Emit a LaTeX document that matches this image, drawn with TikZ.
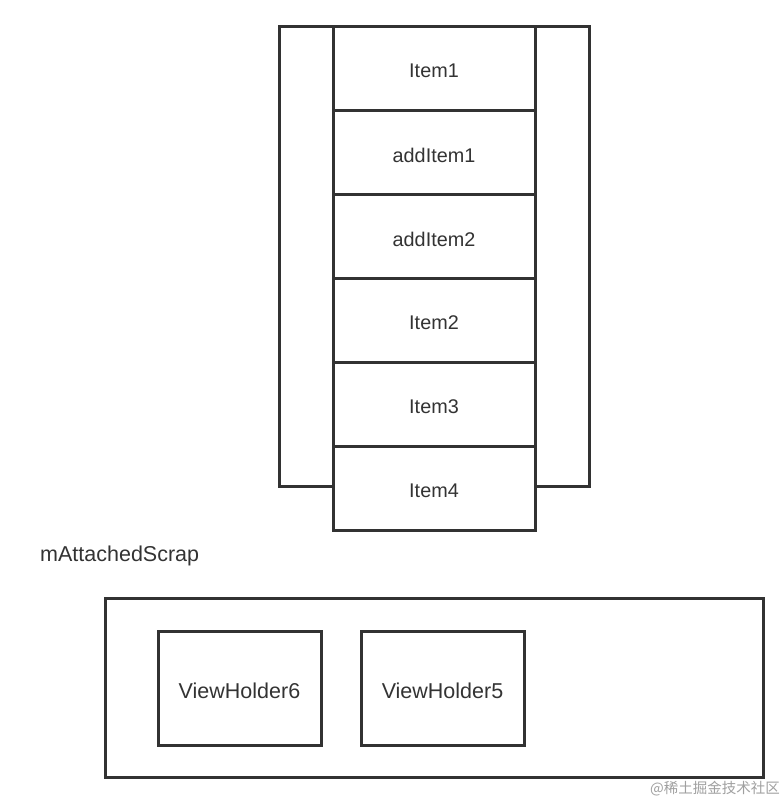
\documentclass[tikz,border=0pt]{standalone}
\usepackage{fontspec}
\setmainfont{Liberation Sans}
\newfontfamily\cjkfont{Noto Sans CJK SC}
\definecolor{ink}{RGB}{50,50,50}
\definecolor{txt}{RGB}{51,51,51}
\definecolor{wm}{RGB}{160,160,160}
\begin{document}
\begin{tikzpicture}[x=1pt,y=-1pt,
  line/.style={draw=ink,line width=3pt},
  itembox/.style={line,fill=white,rectangle,minimum width=202pt,minimum height=84pt,inner sep=0pt},
  itemtext/.style={inner sep=0pt,font=\fontsize{19.8}{22}\selectfont,text=txt},
  vhbox/.style={line,fill=white,rectangle,minimum width=163pt,minimum height=114pt,inner sep=0pt},
  vhtext/.style={inner sep=0pt,font=\fontsize{21.5}{24}\selectfont,text=txt}]
\useasboundingbox[fill=white] (0,0) rectangle (781,798);
% outer frame of the list
\node[line,rectangle,minimum width=310pt,minimum height=460pt,inner sep=0pt] (frame) at (434,256) {};
% list items
\node[itembox] (i1) at (434,68) {};
\node[itembox] (a1) at (434,152) {};
\node[itembox] (a2) at (434,236) {};
\node[itembox] (i2) at (434,320) {};
\node[itembox] (i3) at (434,404) {};
\node[itembox] (i4) at (434,488) {};
\node[itemtext] (ti1) at ([yshift=-3pt]i1.center) {Item1};
\node[itemtext] (ta1) at ([yshift=-3pt]a1.center) {addItem1};
\node[itemtext] (ta2) at ([yshift=-3pt]a2.center) {addItem2};
\node[itemtext] (ti2) at ([yshift=-3pt]i2.center) {Item2};
\node[itemtext] (ti3) at ([yshift=-3pt]i3.center) {Item3};
\node[itemtext] (ti4) at ([yshift=-3pt]i4.center) {Item4};
% scrap label
\node[anchor=base west,inner sep=0pt,font=\fontsize{21.5}{24}\selectfont,text=txt] (lbl) at (40,561) {mAttachedScrap};
% scrap container
\node[line,rectangle,minimum width=658pt,minimum height=179pt,inner sep=0pt] (scrap) at (434,688) {};
\node[vhbox] (vh6) at (239.5,688) {};
\node[vhbox] (vh5) at (442.5,688) {};
\node[vhtext] (tv6) at ([yshift=-3pt]vh6.center) {ViewHolder6};
\node[vhtext] (tv5) at ([yshift=-3pt]vh5.center) {ViewHolder5};
% watermark
\node[inner sep=0pt,font=\cjkfont\fontsize{14.5}{16}\selectfont,text=wm] (wmk) at (715,789) {@稀土掘金技术社区};
\end{tikzpicture}
\end{document}
